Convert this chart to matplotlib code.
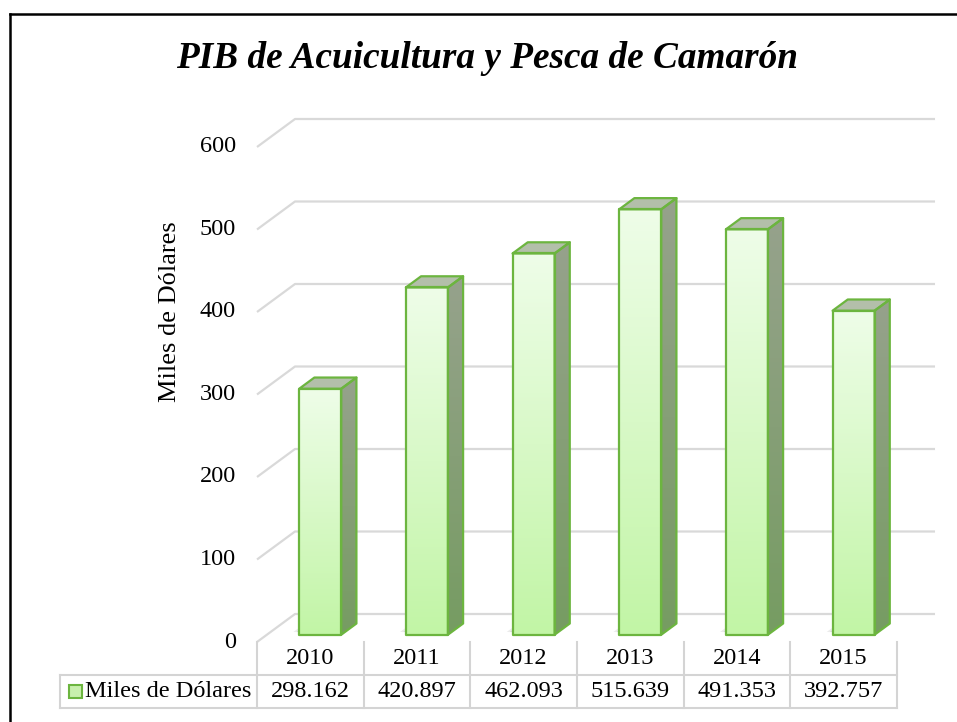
import numpy as np
import matplotlib.pyplot as plt
from matplotlib.patches import Polygon, Rectangle
from matplotlib.lines import Line2D

# PIB de acuicultura y pesca de camarón (miles de dólares)
anios = ['2010', '2011', '2012', '2013', '2014', '2015']
valores = [298.162, 420.897, 462.093, 515.639, 491.353, 392.757]
etiquetas = ['298.162', '420.897', '462.093', '515.639', '491.353', '392.757']
ticks_y = [0, 100, 200, 300, 400, 500, 600]
serie = 'Miles de Dólares'

plt.rcParams['font.family'] = ['Liberation Serif', 'DejaVu Serif']

W, H = 957, 722
fig = plt.figure(figsize=(W / 100, H / 100), dpi=100)

# plot area laid out in pixels
x0_px, x1_px = 257, 945
y0_px, y1_px = 642, 100
px_cat = 106.67   # pixels per category
px_val = 0.825    # pixels per unit value
ax = fig.add_axes([x0_px / W, 1 - y0_px / H, (x1_px - x0_px) / W, (y0_px - y1_px) / H])
ax.set_xlim(-0.5, -0.5 + (x1_px - x0_px) / px_cat)
ax.set_ylim(0, (y0_px - y1_px) / px_val)
ax.axis('off')

# oblique depth offset (front wall -> back wall)
DX = 38 / px_cat
DY = 28 / px_val


def proj(x, y, z):
    return (x + z * DX, y + z * DY)


n = len(anios)
grid_col = '#d9d9d9'

# gridlines: short diagonal on the left, then along the back wall
for v in ticks_y:
    pts = [proj(-0.5, v, 0), proj(-0.5, v, 1), proj(n - 0.5, v, 1)]
    ax.plot([p[0] for p in pts], [p[1] for p in pts], color=grid_col, lw=1.6,
            zorder=1, clip_on=False, solid_capstyle='butt')
    ax.text(-0.5 - 21 / px_cat, v, str(v), ha='right', va='center', fontsize=17.5)


def gradient_face(pts, c_bottom, c_top, zorder):
    poly = Polygon(pts, closed=True, facecolor='none', edgecolor='none',
                   transform=ax.transData)
    ax.add_patch(poly)
    xs = [p[0] for p in pts]
    ys = [p[1] for p in pts]
    t = np.linspace(0, 1, 64)[:, None]
    img = (1 - t) * np.array(c_bottom) + t * np.array(c_top)
    img = np.repeat(img[:, None, :], 2, axis=1) / 255.0
    im = ax.imshow(img, extent=[min(xs), max(xs), min(ys), max(ys)], origin='lower',
                   aspect='auto', interpolation='bilinear', zorder=zorder)
    im.set_clip_path(poly)


hw = 0.197
z0, z1 = 0.26, 0.66
edge = '#6cb53f'

for i, v in enumerate(valores):
    # soft shadow on the floor
    for k, a in enumerate([0.10, 0.10, 0.12]):
        off = 0.09 - k * 0.03
        sh = [proj(i - hw - off, 0, z0 + 0.1), proj(i + hw, 0, z0),
              proj(i + hw, 0, z1), proj(i - hw - off, 0, z1)]
        ax.add_patch(Polygon(sh, closed=True, facecolor='#404040', edgecolor='none',
                             alpha=a, zorder=2))

    front = [proj(i - hw, 0, z0), proj(i + hw, 0, z0), proj(i + hw, v, z0), proj(i - hw, v, z0)]
    side = [proj(i + hw, 0, z0), proj(i + hw, 0, z1), proj(i + hw, v, z1), proj(i + hw, v, z0)]
    top = [proj(i - hw, v, z0), proj(i + hw, v, z0), proj(i + hw, v, z1), proj(i - hw, v, z1)]

    gradient_face(side, (118, 156, 98), (150, 162, 140), 3)
    gradient_face(front, (194, 245, 166), (238, 253, 232), 3)
    ax.add_patch(Polygon(top, closed=True, facecolor='#b3bfaa', edgecolor='none', zorder=3))
    for face in (side, top, front):
        ax.add_patch(Polygon(face, closed=True, facecolor='none', edgecolor=edge,
                             lw=1.6, zorder=4, joinstyle='round'))

ax.set_xlim(-0.5, -0.5 + (x1_px - x0_px) / px_cat)
ax.set_ylim(0, (y0_px - y1_px) / px_val)

# data table under the chart
tab_col = '#d4d4d4'
row1 = -(675 - y0_px) / px_val
row2 = -(708 - y0_px) / px_val
x_leg = -0.5 - (x0_px - 60) / px_cat
for k in range(n + 1):
    ax.plot([k - 0.5, k - 0.5], [0, row2], color=tab_col, lw=1.5, clip_on=False, zorder=1)
for yy in (row1, row2):
    ax.plot([x_leg, n - 0.5], [yy, yy], color=tab_col, lw=1.5, clip_on=False, zorder=1)
ax.plot([x_leg, x_leg], [row1, row2], color=tab_col, lw=1.5, clip_on=False, zorder=1)

for i in range(n):
    ax.text(i, row1 / 2, anios[i], ha='center', va='center', fontsize=17.5)
    ax.text(i, (row1 + row2) / 2, etiquetas[i], ha='center', va='center', fontsize=17.5)

ax.add_patch(Rectangle((-0.5 - (x0_px - 69) / px_cat, (row1 + row2) / 2 - 6.5 / px_val),
                       13 / px_cat, 13 / px_val, facecolor='#c8f0ad', edgecolor=edge,
                       lw=1.5, clip_on=False, zorder=5))
ax.text(-0.5 - (x0_px - 85) / px_cat, (row1 + row2) / 2, serie, ha='left', va='center',
        fontsize=17.5)

# axis title
ax.text(-0.5 - (x0_px - 170) / px_cat, (y0_px - 312) / px_val, serie, rotation=90,
        ha='center', va='center', fontsize=19)

# chart title
fig.text(487 / W, 1 - 58 / H, 'PIB de Acuicultura y Pesca de Camarón', ha='center',
         va='center', fontsize=26.8, fontweight='bold', fontstyle='italic')

# outer frame
fig.add_artist(Line2D([10 / W, 10 / W], [0, 1 - 14 / H], color='black', lw=1.8))
fig.add_artist(Line2D([10 / W, 1], [1 - 14 / H, 1 - 14 / H], color='black', lw=1.8))

fig.savefig('out.png', dpi=100)
